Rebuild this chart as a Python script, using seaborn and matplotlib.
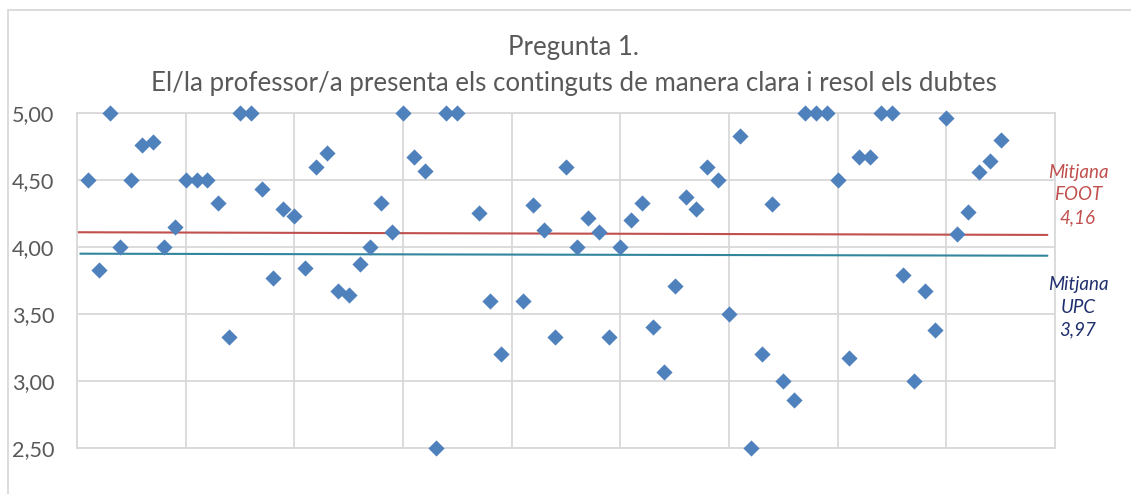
import numpy as np
import pandas as pd
import seaborn as sns
import matplotlib.pyplot as plt
from matplotlib.patches import Rectangle
from matplotlib.ticker import FuncFormatter

# Puntuació per grup (x = índex del grup, NaN = sense dada)
group_idx = list(range(1, 86))
scores = [4.50, 3.83, 5.00, 4.00, 4.50, 4.76, 4.78, 4.00, 4.15, 4.50,
          4.50, 4.50, 4.33, 3.33, 5.00, 5.00, 4.43, 3.77, 4.28, 4.23,
          3.84, 4.60, 4.70, 3.67, 3.64, 3.87, 4.00, 4.33, 4.11, 5.00,
          4.67, 4.57, 2.50, 5.00, 5.00, np.nan, 4.25, 3.60, 3.20, np.nan,
          3.60, 4.31, 4.13, 3.33, 4.60, 4.00, 4.22, 4.11, 3.33, 4.00,
          4.20, 4.33, 3.40, 3.07, 3.71, 4.37, 4.28, 4.60, 4.50, 3.50,
          4.83, 2.50, 3.20, 4.32, 3.00, 2.86, 5.00, 5.00, 5.00, 4.50,
          3.17, 4.67, 4.67, 5.00, 5.00, 3.79, 3.00, 3.67, 3.38, 4.96,
          4.10, 4.26, 4.56, 4.64, 4.80]

# línies de mitjana tal com es veuen al gràfic
foot_x = [0, 89.3]
foot_y = [4.11, 4.09]
upc_x = [0.3, 89.3]
upc_y = [3.95, 3.935]
foot_label = "Mitjana\nFOOT\n4,16"
upc_label = "Mitjana\nUPC\n3,97"

yticks = [2.5, 3.0, 3.5, 4.0, 4.5, 5.0]
xticks = list(range(0, 91, 10))

df = pd.DataFrame({"grup": group_idx, "puntuacio": scores})

sns.set_theme(style="white")
plt.rcParams['font.family'] = ['Lato', 'DejaVu Sans']

fig = plt.figure(figsize=(11.31, 4.94), dpi=100)
ax = fig.add_axes([0.0681, 0.0931, 0.8647, 0.6782])

grid_c = '#D9D9D9'
ax.plot(foot_x, foot_y, color='#C0504D', lw=1.5, zorder=2)
ax.plot(upc_x, upc_y, color='#31859C', lw=1.5, zorder=2)

sns.scatterplot(data=df, x="grup", y="puntuacio", marker='D', s=68,
                color='#4F81BD', linewidth=0, ax=ax, zorder=3, clip_on=False)

ax.set_xlim(0, 90)
ax.set_ylim(2.5, 5.0)
ax.set_xticks(xticks)
ax.set_yticks(yticks)
ax.set_xticklabels([])
ax.yaxis.set_major_formatter(FuncFormatter(lambda v, p: f"{v:.2f}".replace('.', ',')))
ax.tick_params(axis='y', length=0, pad=16.5, labelsize=15.6, labelcolor='#595959')
ax.tick_params(axis='x', length=0)
ax.grid(True, color=grid_c, lw=1.3)
for sp in ax.spines.values():
    sp.set_color(grid_c)
    sp.set_linewidth(1.3)
ax.set_xlabel("")
ax.set_ylabel("")

# títol
fig.text(0.5075, 1 - 55 / 494, "Pregunta 1.", ha='center', va='baseline',
         fontsize=18.6, color='#595959')
fig.text(0.5075, 1 - 90.5 / 494,
         "El/la professor/a presenta els continguts de manera clara i resol els dubtes",
         ha='center', va='baseline', fontsize=18.6, color='#595959')

# etiquetes de les mitjanes
fig.text(1078 / 1131, 1 - 195 / 494, foot_label, ha='center', va='center',
         fontsize=13.5, style='italic', color='#C0504D', linespacing=1.4)
fig.text(1078 / 1131, 1 - 307 / 494, upc_label, ha='center', va='center',
         fontsize=13.5, style='italic', color='#1F2F6E', linespacing=1.4)

# marc del gràfic
fig.patches.append(Rectangle((8 / 1131, -0.1), 1.2, 0.1 + 1 - 10 / 494,
                             transform=fig.transFigure, fill=False,
                             edgecolor=grid_c, lw=1.3))

fig.savefig("out.png", dpi=100)
